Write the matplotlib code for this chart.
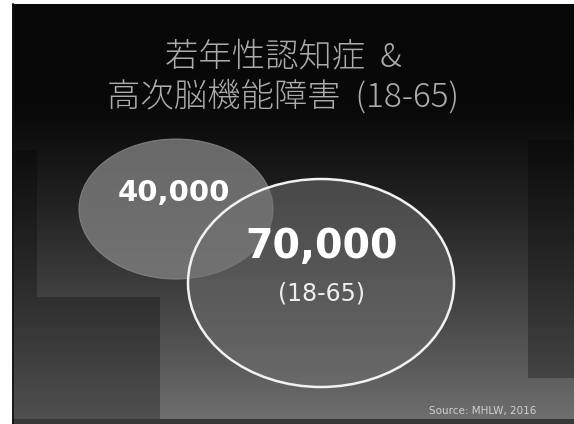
import numpy as np
import matplotlib.pyplot as plt
from matplotlib.patches import Ellipse

# chart content
title_lines = ["若年性認知症  &", "高次脳機能障害  (18-65)"]
groups = ["40,000", "70,000"]
group_sub = ["", "(18-65)"]
source = "Source: MHLW, 2016"

W, H = 574, 424
SLIDE = (12, 4, 574, 424)  # x0, y0, x1, y1 in pixels


def slide_background():
    x0, y0, x1, y1 = SLIDE
    ys = np.arange(y0, y1) + 0.5
    xs = np.arange(x0, x1) + 0.5
    t = np.clip((ys - 105) / 315.0, 0, 1)
    col = 0.035 + 0.40 * t ** 1.2
    img = np.repeat(col[:, None], len(xs), axis=1)
    X, Y = np.meshgrid(xs, ys)
    dark = (X < 37) & (Y > 150)
    dark |= (X < 160) & (Y > 297)
    dark |= (X > 528) & (Y > 140) & (Y < 378)
    img[dark] *= 0.72
    img[Y > 419] = 0.22
    return img


fig = plt.figure(figsize=(W / 100, H / 100), dpi=100)
ax = fig.add_axes([0, 0, 1, 1])
ax.set_xlim(0, W)
ax.set_ylim(H, 0)
ax.axis("off")
fig.patch.set_facecolor("white")

x0, y0, x1, y1 = SLIDE
ax.imshow(slide_background(), cmap="gray", vmin=0, vmax=1,
          extent=(x0, x1, y1, y0), interpolation="bilinear", zorder=0)
ax.plot([x0 + 0.5, x0 + 0.5], [y0, y1], color="#111111", lw=1.2, zorder=1)

# title
cjk = ["Noto Sans CJK JP", "DejaVu Sans"]
ax.text(283, 57, title_lines[0], ha="center", va="center", fontsize=24,
        color="#ababab", family=cjk, fontweight="light", zorder=5)
ax.text(283, 97, title_lines[1], ha="center", va="center", fontsize=24,
        color="#ababab", family=cjk, fontweight="light", zorder=5)

# ellipses
ax.add_patch(Ellipse((176, 209), 194, 140, facecolor="#808080", alpha=0.8,
                     edgecolor="#8a8a8a", lw=0.8, zorder=2))
ax.add_patch(Ellipse((321, 283), 266, 208, facecolor="#707070", alpha=0.55,
                     edgecolor="none", zorder=3))
ax.add_patch(Ellipse((321, 283), 266, 208, facecolor="none",
                     edgecolor="#f2f2f2", lw=1.8, zorder=4))

ax.text(174, 193, groups[0], ha="center", va="center", fontsize=21,
        fontweight="bold", color="white", zorder=6)
ax.text(322, 247, groups[1], ha="center", va="center", fontsize=28.5,
        fontweight="bold", color="white", zorder=6)
ax.text(321, 294, group_sub[1], ha="center", va="center", fontsize=17,
        color="#eeeeee", zorder=6)

ax.text(483, 411, source, ha="center", va="center", fontsize=7.5,
        color="#d0d0d0", zorder=6)

fig.savefig("out.png", dpi=100)
